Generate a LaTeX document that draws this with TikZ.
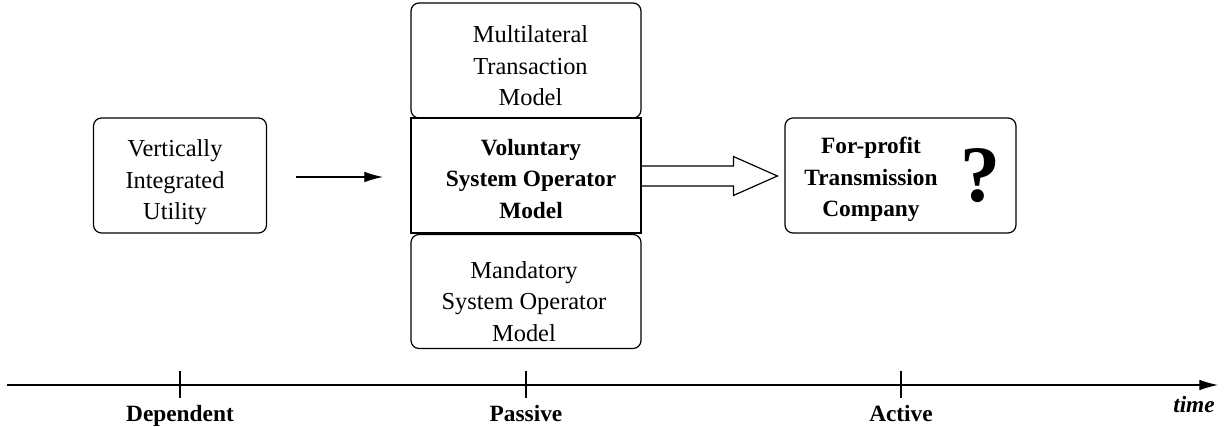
\documentclass[tikz,border=0pt]{standalone}
\usepackage{fontspec}
\setmainfont{Liberation Serif}
\usetikzlibrary{calc,arrows.meta}
\begin{document}
\begin{tikzpicture}[x=0.75pt,y=-0.75pt,
  txt/.style={font=\fontsize{18.3}{23.6}\selectfont, align=center, inner sep=0pt},
  btxt/.style={font=\fontsize{17.5}{23.6}\selectfont\bfseries, align=center, inner sep=0pt},
  boxbase/.style={draw, line width=0.9pt, inner sep=0pt, minimum height=86.25pt},
  rbox/.style={boxbase, rounded corners=6pt},
  sbox/.style={boxbase},
  axislab/.style={font=\fontsize{17.5}{21}\selectfont\bfseries, anchor=base, inner sep=0pt},
  thinarrow/.style={line width=0.9pt, -{Latex[length=14pt,width=8pt]}},
]
\useasboundingbox (0,0) rectangle (1229,427);

% boxes
\node[rbox, minimum width=129.75pt] (viu) at (180,175.5) {};
\node[txt] (viut) at (175,182.5) {Vertically\\Integrated\\Utility};

\node[rbox, minimum width=172.5pt] (mtm) at (526,60.5) {};
\node[txt] (mtmt) at (530.5,66) {Multilateral\\Transaction\\Model};

\node[sbox, minimum width=172.5pt] (vso) at (526,175.5) {};
\node[btxt] (vsot) at (531,179) {Voluntary\\System Operator\\Model};

\node[rbox, minimum width=172.5pt, minimum height=85.5pt] (mso) at (526,291.5) {};
\node[txt] (msot) at (524,301.5) {Mandatory\\System Operator\\Model};

\node[rbox, minimum width=173.25pt] (fp) at (900.5,175.5) {};
\node[btxt] (fpt) at (871,179.5) {For-profit\\Transmission\\Company};
\node[inner sep=0pt, font=\fontsize{60}{60}\selectfont\bfseries] (q) at (980,176) {?};

% thin arrow
\coordinate (a1) at (296,177);
\coordinate (a2) at (383,177);
\draw[thinarrow] (a1) -- (a2);

% hollow arrow
\draw[line width=0.9pt, line join=miter]
  ($(vso.east)+(0,-9.5)$) -- ($(fp.west)+(-51,-9.5)$) -- ($(fp.west)+(-51,-19)$)
  -- ($(fp.west)+(-7,0.5)$) -- ($(fp.west)+(-51,20)$) -- ($(fp.west)+(-51,10.5)$)
  -- ($(vso.east)+(0,10.5)$);

% time axis
\coordinate (ax0) at (7,385);
\coordinate (ax1) at (1218,385);
\draw[line width=0.9pt, -{Latex[length=14pt,width=8pt]}] (ax0) -- (ax1);
\draw[line width=0.9pt] (180,371) -- (180,398);
\draw[line width=0.9pt] (526,371) -- (526,398);
\draw[line width=0.9pt] (901,371) -- (901,398);

\node[axislab] (dep) at (180,422) {Dependent};
\node[axislab] (pas) at (526,422) {Passive};
\node[axislab] (act) at (901,422) {Active};
\node[font=\fontsize{17.5}{21}\selectfont\bfseries\itshape, anchor=base east, inner sep=0pt] (time) at (1215,413) {time};
\end{tikzpicture}
\end{document}
